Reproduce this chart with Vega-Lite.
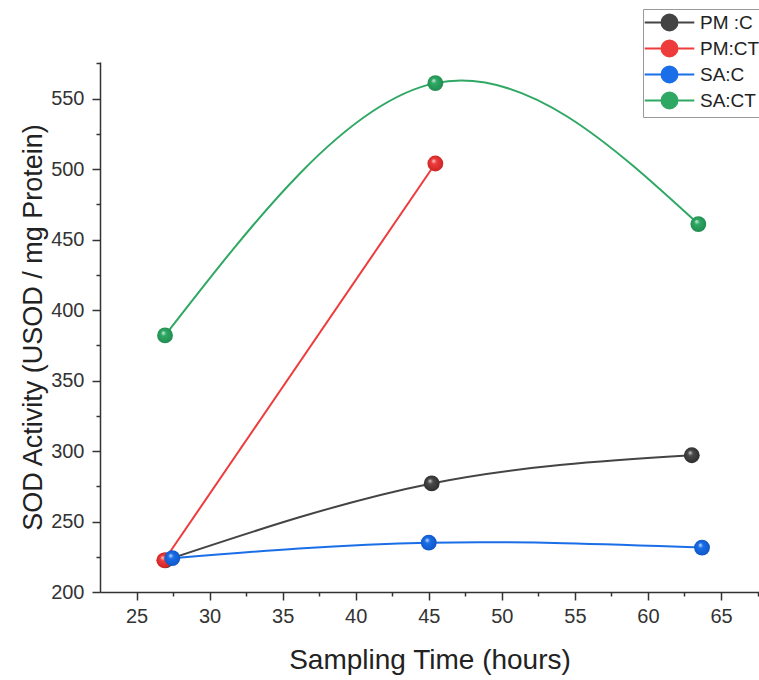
{
  "$schema": "https://vega.github.io/schema/vega-lite/v6.json",
  "width": 659,
  "height": 530,
  "autosize": {"type": "none"},
  "padding": {"left": 100, "top": 62, "right": 0, "bottom": 88},
  "background": "white",
  "config": {
    "view": {"stroke": null},
    "font": "Liberation Sans",
    "axis": {
      "grid": false,
      "domainColor": "#333333",
      "domainWidth": 1.5,
      "tickColor": "#333333",
      "tickWidth": 1.5,
      "labelFont": "Liberation Sans",
      "labelFontSize": 20,
      "labelColor": "#333333",
      "titleFont": "Liberation Sans",
      "titleFontWeight": "normal",
      "titleColor": "#222222"
    }
  },
  "data": {
    "values": [
      {"series": "PM :C", "time": 27.0, "sod": 222.5},
      {"series": "PM :C", "time": 45.2, "sod": 277},
      {"series": "PM :C", "time": 63.0, "sod": 297},
      {"series": "PM:CT", "time": 26.9, "sod": 222.5},
      {"series": "PM:CT", "time": 45.45, "sod": 504},
      {"series": "SA:C", "time": 27.45, "sod": 224},
      {"series": "SA:C", "time": 45.0, "sod": 235},
      {"series": "SA:C", "time": 63.7, "sod": 231.5},
      {"series": "SA:CT", "time": 26.95, "sod": 382},
      {"series": "SA:CT", "time": 45.45, "sod": 561},
      {"series": "SA:CT", "time": 63.45, "sod": 461}
    ]
  },
  "encoding": {
    "x": {
      "field": "time",
      "type": "quantitative",
      "scale": {"domain": [22.5, 67.6], "nice": false, "zero": false},
      "axis": {
        "title": "Sampling Time (hours)",
        "titleFontSize": 28,
        "values": [25, 27.5, 30, 32.5, 35, 37.5, 40, 42.5, 45, 47.5, 50, 52.5, 55, 57.5, 60, 62.5, 65, 67.5],
        "labelExpr": "datum.value % 5 === 0 ? datum.label : ''",
        "tickSize": {"condition": {"test": "datum.value % 5 === 0", "value": 8}, "value": 4},
        "labelPadding": 6,
        "labelFlush": false,
        "labelOverlap": false,
        "titlePadding": 20
      }
    },
    "y": {
      "field": "sod",
      "type": "quantitative",
      "scale": {"domain": [200, 576], "nice": false, "zero": false},
      "axis": {
        "title": "SOD Activity (USOD / mg Protein)",
        "titleFontSize": 27,
        "values": [200, 225, 250, 275, 300, 325, 350, 375, 400, 425, 450, 475, 500, 525, 550, 575],
        "labelExpr": "datum.value % 50 === 0 ? datum.label : ''",
        "tickSize": {"condition": {"test": "datum.value % 50 === 0", "value": 8}, "value": 4},
        "labelPadding": 8,
        "labelFlush": false,
        "labelOverlap": false,
        "titlePadding": 3
      }
    }
  },
  "layer": [
    {
      "mark": {"type": "line", "interpolate": "natural", "strokeWidth": 2},
      "encoding": {
        "color": {
          "field": "series",
          "type": "nominal",
          "scale": {
            "domain": ["PM :C", "PM:CT", "SA:C", "SA:CT"],
            "range": ["#444444", "#ee3b3b", "#1a6ee8", "#2fa864"]
          },
          "legend": {
            "title": null,
            "orient": "none",
            "legendX": 543,
            "legendY": -53,
            "padding": 4,
            "strokeColor": "#999999",
            "fillColor": "white",
            "labelFont": "Liberation Sans",
            "labelFontSize": 19,
            "labelColor": "#222222",
            "labelOffset": 21,
            "rowPadding": 1,
            "symbolSize": 256,
            "symbolOffset": 13,
            "symbolStrokeWidth": 2,
            "symbolType": "M-3.1,0L-1,0M1,0L3.1,0M-1,0A1,1,0,1,1,1,0A1,1,0,1,1,-1,0Z",
            "encode": {
              "symbols": {
                "update": {
                  "fill": {"scale": "color", "field": "value"},
                  "stroke": {"scale": "color", "field": "value"},
                  "opacity": {"value": 1}
                }
              }
            }
          }
        }
      }
    },
    {
      "transform": [{"filter": "datum.series === 'PM :C'"}],
      "mark": {"type": "point", "filled": true, "size": 250, "opacity": 1,
        "fill": {"gradient": "radial", "x1": 0.38, "y1": 0.32, "r1": 0, "x2": 0.5, "y2": 0.5, "r2": 0.55,
          "stops": [{"offset": 0, "color": "#d8d8d8"}, {"offset": 0.3, "color": "#4a4a4a"}, {"offset": 1, "color": "#2a2a2a"}]}}
    },
    {
      "transform": [{"filter": "datum.series === 'PM:CT'"}],
      "mark": {"type": "point", "filled": true, "size": 250, "opacity": 1,
        "fill": {"gradient": "radial", "x1": 0.38, "y1": 0.32, "r1": 0, "x2": 0.5, "y2": 0.5, "r2": 0.55,
          "stops": [{"offset": 0, "color": "#fde0e0"}, {"offset": 0.3, "color": "#ee3b3b"}, {"offset": 1, "color": "#c92222"}]}}
    },
    {
      "transform": [{"filter": "datum.series === 'SA:C'"}],
      "mark": {"type": "point", "filled": true, "size": 250, "opacity": 1,
        "fill": {"gradient": "radial", "x1": 0.38, "y1": 0.32, "r1": 0, "x2": 0.5, "y2": 0.5, "r2": 0.55,
          "stops": [{"offset": 0, "color": "#dbe8fc"}, {"offset": 0.3, "color": "#1a6ee8"}, {"offset": 1, "color": "#0f55c4"}]}}
    },
    {
      "transform": [{"filter": "datum.series === 'SA:CT'"}],
      "mark": {"type": "point", "filled": true, "size": 250, "opacity": 1,
        "fill": {"gradient": "radial", "x1": 0.38, "y1": 0.32, "r1": 0, "x2": 0.5, "y2": 0.5, "r2": 0.55,
          "stops": [{"offset": 0, "color": "#dff3e6"}, {"offset": 0.3, "color": "#2fa864"}, {"offset": 1, "color": "#1f8a4e"}]}}
    }
  ]
}
